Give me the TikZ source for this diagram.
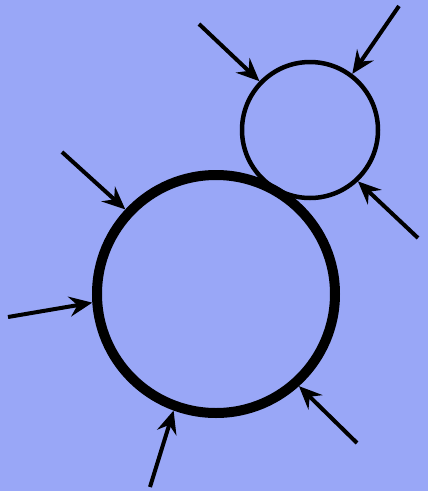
\documentclass[tikz,border=0pt]{standalone}
\usepackage{tikz}
\usetikzlibrary{arrows.meta, positioning}
\definecolor{bgblue}{HTML}{99A7F7}

\begin{document}
\begin{tikzpicture}[x=1pt, y=-1pt,
  ring/.style={circle, draw=black, inner sep=0pt},
  push/.style={line width=4pt, draw=black,
               -{Stealth[length=23pt, width=20pt, inset=8pt]}},
]
  \fill[bgblue] (0,0) rectangle (428,491);
  \useasboundingbox (0,0) rectangle (428,491);

  % the two circles
  \node[ring, line width=10pt, minimum size=238pt]  (big)   at (216,294) {};
  \node[ring, line width=4.5pt, minimum size=136pt] (small) at (310,130) {};

  % free ends of the arrows
  \coordinate (s1) at (199,24);
  \coordinate (s2) at (399,6);
  \coordinate (s3) at (418,238);
  \coordinate (b1) at (62,152);
  \coordinate (b2) at (8,317);
  \coordinate (b3) at (150,487);
  \coordinate (b4) at (357,443);

  \draw[push] (s1) -- (small.136);
  \draw[push] (s2) -- (small.53);
  \draw[push] (s3) -- (small.313);
  \draw[push] (b1) -- (big.137);
  \draw[push] (b2) -- (big.184);
  \draw[push] (b3) -- (big.250);
  \draw[push] (b4) -- (big.312);
\end{tikzpicture}
\end{document}
